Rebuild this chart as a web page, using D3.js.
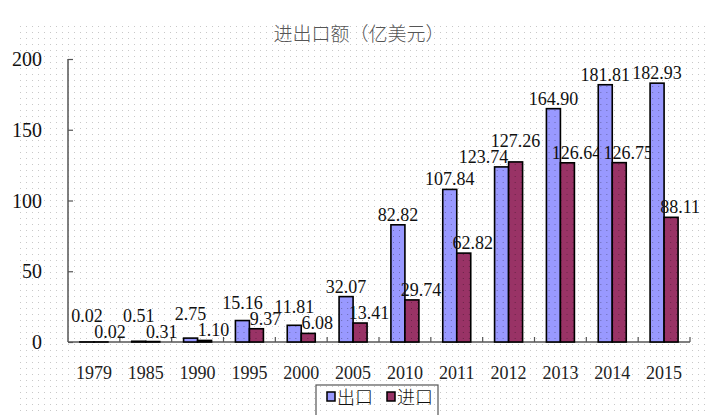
<!DOCTYPE html>
<html>
<head>
<meta charset="utf-8">
<script src="https://cdn.jsdelivr.net/npm/d3@7"></script>
<style>
  html, body { margin: 0; padding: 0; background: #fff; }
  svg { display: block; }
</style>
</head>
<body>
<svg id="chart" width="705" height="415"></svg>
<script>
// data
const years = ['1979', '1985', '1990', '1995', '2000', '2005', '2010', '2011', '2012', '2013', '2014', '2015'];
const exportValues = [0.02, 0.51, 2.75, 15.16, 11.81, 32.07, 82.82, 107.84, 123.74, 164.90, 181.81, 182.93];
const importValues = [0.02, 0.31, 1.10, 9.37, 6.08, 13.41, 29.74, 62.82, 127.26, 126.64, 126.75, 88.11];
const seriesNames = ['出口', '进口'];
const yTicks = [0, 50, 100, 150, 200];

const width = 705, height = 415;
const margin = { top: 59, right: 15, bottom: 73, left: 68 };
const colors = ['#9999ff', '#993366'];
const serif = '"Liberation Serif", "Times New Roman", serif';
const cjk = '"Noto Sans CJK SC", sans-serif';

const svg = d3.select('#chart');

// dotted background like the original scan
const defs = svg.append('defs');
defs.append('pattern')
    .attr('id', 'dots')
    .attr('width', 6).attr('height', 6)
    .attr('patternUnits', 'userSpaceOnUse')
    .append('rect')
    .attr('x', 2).attr('y', 2).attr('width', 1).attr('height', 1)
    .attr('fill', '#c8c8c8');
defs.append('pattern')
    .attr('id', 'barDots')
    .attr('width', 6).attr('height', 6)
    .attr('patternUnits', 'userSpaceOnUse')
    .append('rect')
    .attr('x', 2).attr('y', 2).attr('width', 1).attr('height', 1)
    .attr('fill', '#000').attr('opacity', 0.3);

svg.append('rect')
    .attr('x', 15).attr('y', 25)
    .attr('width', width - 15).attr('height', height - 25)
    .attr('fill', 'url(#dots)');

// title
svg.append('text')
    .attr('x', 359).attr('y', 41)
    .attr('text-anchor', 'middle')
    .attr('font-family', cjk)
    .attr('font-size', 19)
    .attr('font-weight', 300)
    .attr('fill', '#555')
    .text('进出口额（亿美元）');

const x0 = d3.scaleBand()
    .domain(years)
    .range([margin.left, width - margin.right]);

const bw = x0.bandwidth();
const x1 = d3.scaleBand()
    .domain([0, 1])
    .range([bw / 2 - 14, bw / 2 + 14]);

const y = d3.scaleLinear()
    .domain([0, 200])
    .range([height - margin.bottom, margin.top]);

// y axis
const yAxis = svg.append('g')
    .attr('transform', `translate(${margin.left},0)`)
    .call(d3.axisRight(y).tickValues(yTicks).tickSize(5).tickFormat(''));
yAxis.select('.domain').attr('stroke', '#555').attr('stroke-width', 1.5).attr('d', `M0,${y(200)}V${y(0)}`);
yAxis.selectAll('.tick line').attr('stroke', '#555').attr('stroke-width', 1.2);

svg.append('g')
    .selectAll('text')
    .data(yTicks)
    .join('text')
    .attr('x', 42)
    .attr('y', d => y(d))
    .attr('dy', '0.35em')
    .attr('text-anchor', 'end')
    .attr('font-family', serif)
    .attr('font-size', 20)
    .attr('fill', '#111')
    .text(d => d);

// x axis with inward ticks at category boundaries
const xAxis = svg.append('g');
xAxis.append('line')
    .attr('x1', margin.left).attr('x2', width - margin.right)
    .attr('y1', y(0)).attr('y2', y(0))
    .attr('stroke', '#555').attr('stroke-width', 1.5);
xAxis.selectAll('line.tick')
    .data(years)
    .join('line')
    .attr('class', 'tick')
    .attr('x1', d => x0(d) + bw).attr('x2', d => x0(d) + bw)
    .attr('y1', y(0)).attr('y2', y(0) - 5)
    .attr('stroke', '#555').attr('stroke-width', 1.2);

svg.append('g')
    .selectAll('text')
    .data(years)
    .join('text')
    .attr('x', d => x0(d) + bw / 2)
    .attr('y', 379)
    .attr('text-anchor', 'middle')
    .attr('font-family', serif)
    .attr('font-size', 18)
    .attr('fill', '#222')
    .text(d => d);

// bars
const rows = years.map((yr, i) => ({ year: yr, ex: exportValues[i], im: importValues[i] }));

const groups = svg.append('g')
    .selectAll('g')
    .data(rows)
    .join('g')
    .attr('transform', d => `translate(${x0(d.year)},0)`);

const pairs = d => [{ k: 0, v: d.ex, other: d.im }, { k: 1, v: d.im, other: d.ex }];

groups.selectAll('rect.bar')
    .data(pairs)
    .join('rect')
    .attr('class', 'bar')
    .attr('x', d => x1(d.k))
    .attr('width', x1.bandwidth())
    .attr('y', d => y(d.v))
    .attr('height', d => y(0) - y(d.v))
    .attr('fill', d => colors[d.k])
    .attr('stroke', '#000')
    .attr('stroke-width', 1.6);

groups.selectAll('rect.dots')
    .data(pairs)
    .join('rect')
    .attr('class', 'dots')
    .attr('x', d => x1(d.k))
    .attr('width', x1.bandwidth())
    .attr('y', d => y(d.v))
    .attr('height', d => y(0) - y(d.v))
    .attr('fill', 'url(#barDots)');

// value labels: the lower label sits just above its bar and is nudged
// outward, the higher one is lifted a line so the pair never collide
const lineGap = 16;
function labelY(d) {
    const own = y(d.v) - 4;
    const low = y(Math.min(d.v, d.other)) - 4;
    const isHigher = d.v > d.other || (d.v === d.other && d.k === 0);
    return isHigher ? Math.min(own, low - lineGap) : own;
}
function labelX(d) {
    const c = x1(d.k) + x1.bandwidth() / 2;
    if (d.k === 1) return d.v > d.other ? c : c + 9;
    return d.v < d.other ? c - 18 : c;
}

groups.selectAll('text')
    .data(pairs)
    .join('text')
    .attr('x', labelX)
    .attr('y', labelY)
    .attr('text-anchor', 'middle')
    .attr('font-family', serif)
    .attr('font-size', 18)
    .attr('fill', '#111')
    .text(d => d.v.toFixed(2));

// legend
const legend = svg.append('g');
legend.append('rect')
    .attr('x', 316).attr('y', 385)
    .attr('width', 122).attr('height', 40)
    .attr('fill', '#fff')
    .attr('stroke', '#555').attr('stroke-width', 1.2);
legend.append('rect')
    .attr('x', 316).attr('y', 385)
    .attr('width', 122).attr('height', 40)
    .attr('fill', 'url(#dots)');

const items = legend.selectAll('g.item')
    .data(seriesNames)
    .join('g')
    .attr('class', 'item')
    .attr('transform', (d, i) => `translate(${327 + i * 60},0)`);
items.append('rect')
    .attr('x', 0).attr('y', 392)
    .attr('width', 8).attr('height', 9)
    .attr('fill', (d, i) => colors[i])
    .attr('stroke', '#000').attr('stroke-width', 1.5);
items.append('text')
    .attr('x', 10).attr('y', 404)
    .attr('font-family', cjk)
    .attr('font-size', 18)
    .attr('font-weight', 300)
    .attr('fill', '#111')
    .text(d => d);
</script>
</body>
</html>
